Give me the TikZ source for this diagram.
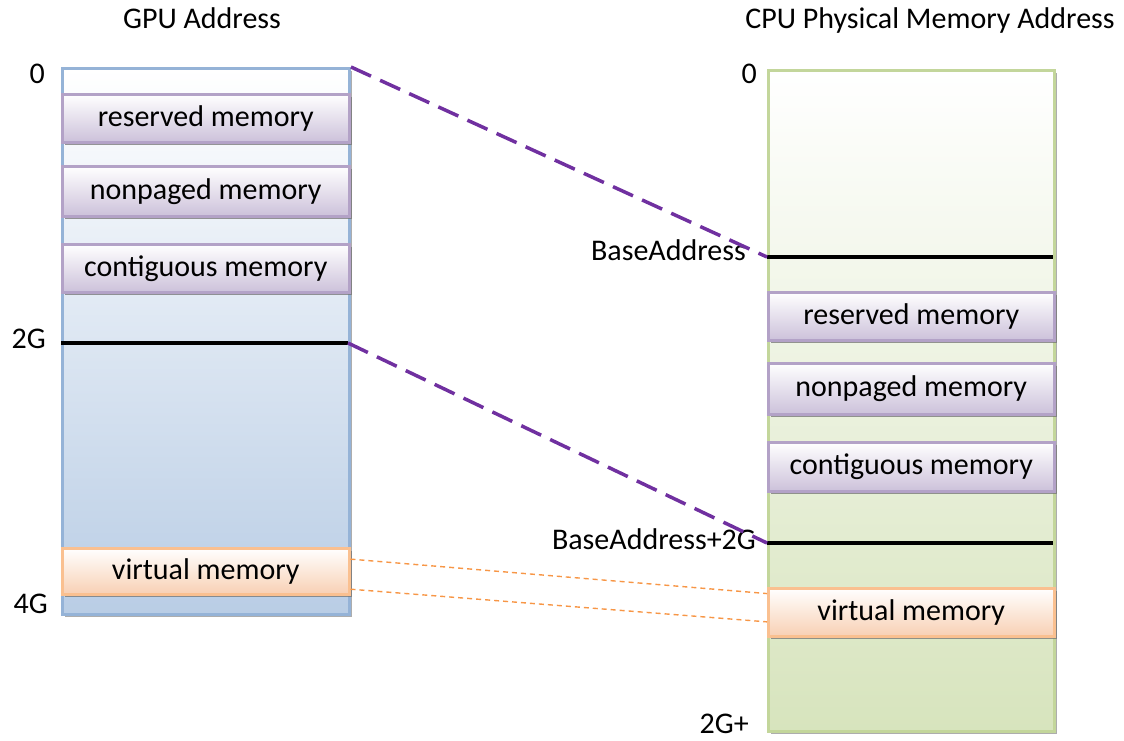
\documentclass[tikz,border=0pt]{standalone}
\usepackage{fontspec}
\setmainfont{Carlito}
\usetikzlibrary{shadows,calc}
\definecolor{gpuedge}{HTML}{95B3D7}
\definecolor{gpufill}{HTML}{B9CDE5}
\definecolor{cpuedge}{HTML}{C3D69B}
\definecolor{cpufill}{HTML}{D7E4BD}
\definecolor{memedge}{HTML}{B3A2C7}
\definecolor{memfill}{HTML}{CCC1DA}
\definecolor{virtedge}{HTML}{FAC090}
\definecolor{virtfill}{HTML}{F8D0B4}
\definecolor{mapline}{HTML}{7030A0}
\definecolor{virtline}{HTML}{F79646}
\newcommand\memfont{\fontsize{30}{34}\selectfont}
\tikzset{
  memcol/.style={line width=3pt, minimum width=287pt, inner sep=0pt, anchor=north west,
                 drop shadow={shadow xshift=2.5pt, shadow yshift=-2.5pt, fill=black!40, opacity=0.8}},
  gpucol/.style={memcol, draw=gpuedge, top color=white, bottom color=gpufill, minimum height=546pt},
  cpucol/.style={memcol, draw=cpuedge, top color=white, bottom color=cpufill, minimum height=661pt},
  membox/.style={line width=2.5pt, minimum width=287pt, inner sep=0pt, anchor=north west, font=\memfont,
                 drop shadow={shadow xshift=2.5pt, shadow yshift=-3pt, fill=black!55, opacity=0.75}},
  kernbox/.style={membox, draw=memedge, top color=white, bottom color=memfill},
  virtbox/.style={membox, draw=virtedge, top color=white, bottom color=virtfill},
  addr/.style={font=\memfont, inner sep=0pt, anchor=base east},
  title/.style={font=\memfont, inner sep=0pt, anchor=base},
  addrline/.style={line width=3.5pt, black},
  mapdash/.style={line width=3.5pt, mapline, dash pattern=on 22pt off 10pt},
  virtdash/.style={line width=1.4pt, virtline, dash pattern=on 5pt off 4pt},
}

\begin{document}
\begin{tikzpicture}[x=1pt, y=-1pt]
  \useasboundingbox (0,0) rectangle (1124,740);
  % titles
  \node[title] (gputitle) at (202,28) {GPU Address};
  \node[title] (cputitle) at (930,28) {CPU Physical Memory Address};

  % GPU address space
  \node[gpucol, minimum height=546pt] (gpu) at (61,67) {};
  \node[kernbox, minimum height=48pt] (lres) at (61,93) {reserved memory};
  \node[kernbox, minimum height=50pt] (lnonp) at (61,165) {nonpaged memory};
  \node[kernbox, minimum height=48pt] (lcont) at (61,243) {contiguous memory};
  \node[virtbox, minimum height=46pt] (lvirt) at (61,547) {virtual memory};
  \coordinate (g2l) at (61,343);
  \coordinate (g2r) at (348,343);
  \draw[addrline] (g2l) -- (g2r);
  \node[addr] (g0) at (45,83) {0};
  \node[addr] (g2) at (46,348) {2G};
  \node[addr] (g4) at (48,613) {4G};

  % CPU physical memory
  \node[cpucol, minimum width=286pt] (cpu) at (767,69) {};
  \node[kernbox, minimum width=286pt, minimum height=48pt] (rres) at (767,291) {reserved memory};
  \node[kernbox, minimum width=286pt, minimum height=51pt] (rnonp) at (767,362) {nonpaged memory};
  \node[kernbox, minimum width=286pt, minimum height=49pt] (rcont) at (767,441) {contiguous memory};
  \node[virtbox, minimum width=286pt, minimum height=48pt] (rvirt) at (767,587) {virtual memory};
  \coordinate (cbl) at (767,257);
  \coordinate (cbr) at (1053,257);
  \coordinate (c2l) at (767,543);
  \coordinate (c2r) at (1053,543);
  \draw[addrline] (cbl) -- (cbr);
  \draw[addrline] (c2l) -- (c2r);
  \node[addr] (c0) at (757,83) {0};
  \node[addr] (cbase) at (746,260) {BaseAddress};
  \node[addr] (cbase2) at (756,549) {BaseAddress+2G};
  \node[addr] (cend) at (749,733) {2G+};

  % mappings
  \draw[mapdash] (gpu.north east) -- (cbl);
  \draw[mapdash] (g2r) -- (c2l);
  \draw[virtdash] ($(lvirt.north east)!0.25!(lvirt.south east)$) -- ($(rvirt.north west)!0.13!(rvirt.south west)$);
  \draw[virtdash] ($(lvirt.north east)!0.87!(lvirt.south east)$) -- ($(rvirt.north west)!0.69!(rvirt.south west)$);
\end{tikzpicture}
\end{document}
